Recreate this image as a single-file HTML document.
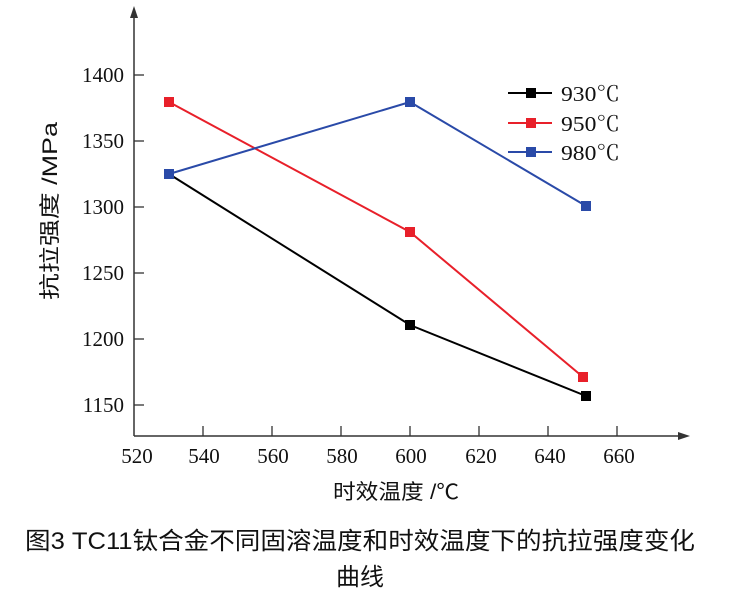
<!DOCTYPE html>
<html><head><meta charset="utf-8"><style>
body{margin:0;background:#fff}
svg{display:block}
text{font-family:"Liberation Serif","Noto Serif CJK SC",serif;fill:#111}
.cj{font-family:"Liberation Sans","Noto Sans CJK SC",sans-serif}
</style></head><body>
<svg width="756" height="598" viewBox="0 0 756 598">
<g stroke="#333" stroke-width="1.5" fill="none">
<line x1="134" y1="436" x2="134" y2="12"/>
<line x1="134" y1="436" x2="684" y2="436"/>
</g>
<polygon points="134,6 130,18 138,18" fill="#333"/>
<polygon points="690,436 678,432 678,440" fill="#333"/>
<g stroke="#333" stroke-width="1.3">
<line x1="203" y1="436" x2="203" y2="426"/><line x1="272" y1="436" x2="272" y2="426"/>
<line x1="341" y1="436" x2="341" y2="426"/><line x1="410" y1="436" x2="410" y2="426"/>
<line x1="479" y1="436" x2="479" y2="426"/><line x1="548" y1="436" x2="548" y2="426"/>
<line x1="617" y1="436" x2="617" y2="426"/>
<line x1="134" y1="75" x2="144" y2="75"/><line x1="134" y1="141" x2="144" y2="141"/>
<line x1="134" y1="207" x2="144" y2="207"/><line x1="134" y1="273" x2="144" y2="273"/>
<line x1="134" y1="339" x2="144" y2="339"/><line x1="134" y1="405" x2="144" y2="405"/>
</g>
<g font-size="21" text-anchor="end">
<text x="124" y="82">1400</text><text x="124" y="148">1350</text><text x="124" y="214">1300</text>
<text x="124" y="280">1250</text><text x="124" y="346">1200</text><text x="124" y="412">1150</text>
</g>
<g font-size="21" text-anchor="middle">
<text x="137" y="463">520</text><text x="204" y="463">540</text><text x="273" y="463">560</text>
<text x="342" y="463">580</text><text x="411" y="463">600</text><text x="481" y="463">620</text>
<text x="550" y="463">640</text><text x="619" y="463">660</text>
</g>
<g fill="none" stroke-width="2">
<polyline points="169,174 410,325 586,396" stroke="#000"/>
<polyline points="169,102 410,232 583,377" stroke="#e8202a"/>
<polyline points="169,174 410,102 586,206" stroke="#2a4aa8"/>
</g>
<g fill="#000"><rect x="164" y="169" width="10" height="10"/><rect x="405" y="320" width="10" height="10"/><rect x="581" y="391" width="10" height="10"/></g>
<g fill="#e8202a"><rect x="164" y="97" width="10" height="10"/><rect x="405" y="227" width="10" height="10"/><rect x="578" y="372" width="10" height="10"/></g>
<g fill="#2a4aa8"><rect x="164" y="169" width="10" height="10"/><rect x="405" y="97" width="10" height="10"/><rect x="581" y="201" width="10" height="10"/></g>
<g stroke-width="2">
<line x1="508" y1="93" x2="552" y2="93" stroke="#000"/>
<line x1="508" y1="123" x2="552" y2="123" stroke="#e8202a"/>
<line x1="508" y1="152" x2="552" y2="152" stroke="#2a4aa8"/>
</g>
<rect x="526" y="88" width="10" height="10" fill="#000"/>
<rect x="526" y="118" width="10" height="10" fill="#e8202a"/>
<rect x="526" y="147" width="10" height="10" fill="#2a4aa8"/>
<g font-size="21">
<text x="561" y="101" textLength="59" lengthAdjust="spacingAndGlyphs">930℃</text><text x="561" y="131" textLength="59" lengthAdjust="spacingAndGlyphs">950℃</text><text x="561" y="160" textLength="59" lengthAdjust="spacingAndGlyphs">980℃</text>
</g>
<text class="cj" font-size="21" transform="translate(57,300) rotate(-90)" textLength="178" lengthAdjust="spacingAndGlyphs">抗拉强度 /MPa</text>
<text class="cj" font-size="21" x="333" y="499" textLength="126" lengthAdjust="spacingAndGlyphs">时效温度 /℃</text>
<text class="cj" font-size="24" x="25" y="549" textLength="670" lengthAdjust="spacingAndGlyphs">图3  TC11钛合金不同固溶温度和时效温度下的抗拉强度变化</text>
<text class="cj" font-size="24" x="336" y="585" textLength="48" lengthAdjust="spacingAndGlyphs">曲线</text>
</svg>
</body></html>
